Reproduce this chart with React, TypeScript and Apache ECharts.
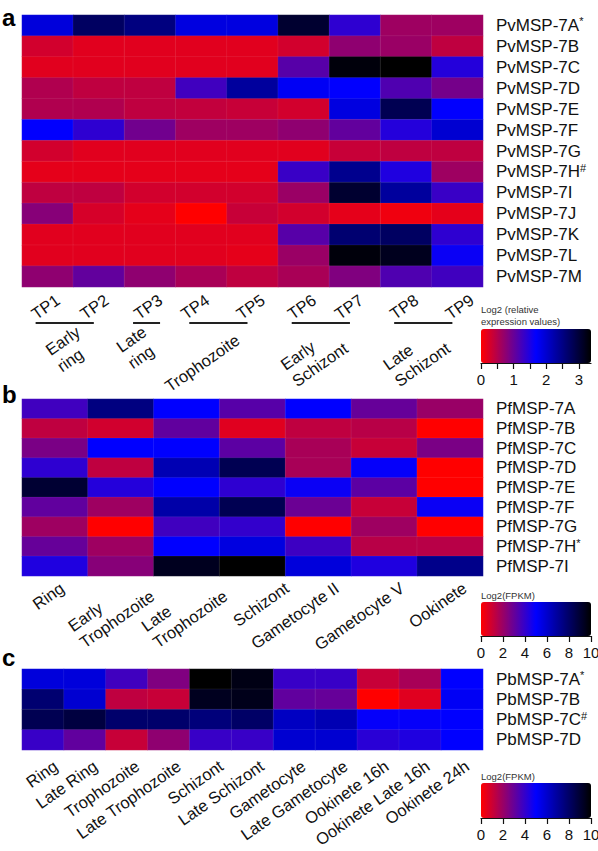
import React, { useEffect, useRef } from 'react';
import * as echarts from 'echarts';

const FONT = '"Liberation Sans", Arial, Helvetica, sans-serif';

// ---------- Panel a data ----------
const tpLabels = ['TP1', 'TP2', 'TP3', 'TP4', 'TP5', 'TP6', 'TP7', 'TP8', 'TP9'];
const tpLabelPos = [0.7, 1.65, 2.7, 3.62, 4.7, 5.7, 6.62, 7.7, 8.78];
const pvGenes = ['PvMSP-7A*', 'PvMSP-7B', 'PvMSP-7C', 'PvMSP-7D', 'PvMSP-7E', 'PvMSP-7F', 'PvMSP-7G',
  'PvMSP-7H#', 'PvMSP-7I', 'PvMSP-7J', 'PvMSP-7K', 'PvMSP-7L', 'PvMSP-7M'];
const pv7A = [1.92, 2.73, 2.53, 1.89, 1.89, 3.05, 1.38, 0.64, 0.64];
const pv7B = [0.30, 0.20, 0.20, 0.20, 0.20, 0.30, 0.74, 0.67, 0.42];
const pv7C = [0.20, 0.20, 0.20, 0.20, 0.20, 1.11, 3.30, 3.37, 1.45];
const pv7D = [0.52, 0.42, 0.42, 1.26, 2.33, 1.75, 1.68, 1.16, 0.91];
const pv7E = [0.52, 0.52, 0.42, 0.40, 0.37, 0.30, 1.89, 2.83, 1.68];
const pv7F = [1.68, 1.38, 0.94, 0.64, 0.64, 0.74, 1.04, 1.45, 1.99];
const pv7G = [0.30, 0.20, 0.20, 0.20, 0.20, 0.20, 0.37, 0.42, 0.42];
const pv7H = [0.17, 0.17, 0.17, 0.17, 0.17, 1.31, 2.43, 1.48, 0.64];
const pv7I = [0.42, 0.42, 0.30, 0.30, 0.30, 0.67, 3.05, 2.33, 1.31];
const pv7J = [0.79, 0.27, 0.17, 0.00, 0.37, 0.30, 0.17, 0.10, 0.17];
const pv7K = [0.20, 0.20, 0.20, 0.20, 0.20, 1.11, 2.63, 2.73, 1.38];
const pv7L = [0.20, 0.20, 0.20, 0.20, 0.17, 0.67, 3.30, 3.17, 1.62];
const pv7M = [0.74, 1.04, 0.74, 0.57, 0.42, 0.57, 0.84, 1.16, 1.26];
const pvRows = [pv7A, pv7B, pv7C, pv7D, pv7E, pv7F, pv7G, pv7H, pv7I, pv7J, pv7K, pv7L, pv7M];
const stageNames = ['Early\nring', 'Late\nring', 'Trophozoite', 'Early\nSchizont', 'Late\nSchizont'];
const stageSpans = [[0, 1], [2, 2], [3, 4], [5, 6], [7, 8]];
const legendATitle = 'Log2 (relative\nexpression values)';
const legendAMax = 3.37;
const legendATicks = [0, 0.5, 1, 1.5, 2, 2.5, 3];
const legendALabels = [0, 1, 2, 3];

// ---------- Panel b data ----------
const pfStages = ['Ring', 'Early\nTrophozoite', 'Late\nTrophozoite', 'Schizont', 'Gametocyte II', 'Gametocyte V', 'Ookinete'];
const pfLabelPos = [0.61, 1.89, 3.0, 4.02, 4.78, 5.77, 6.72];
const pfGenes = ['PfMSP-7A', 'PfMSP-7B', 'PfMSP-7C', 'PfMSP-7D', 'PfMSP-7E', 'PfMSP-7F', 'PfMSP-7G', 'PfMSP-7H*', 'PfMSP-7I'];
const pf7A = [3.75, 7.5, 5.0, 3.3, 5.0, 3.0, 2.0];
const pf7B = [1.25, 0.9, 3.1, 0.6, 1.25, 1.4, 0.0];
const pf7C = [2.6, 5.0, 5.0, 3.2, 1.7, 1.1, 2.6];
const pf7D = [4.1, 1.25, 6.5, 8.4, 1.7, 4.9, 0.0];
const pf7E = [9.0, 4.3, 5.0, 4.1, 4.8, 3.2, 0.0];
const pf7F = [3.1, 1.9, 6.7, 8.4, 2.9, 1.1, 4.8];
const pf7G = [1.9, 0.0, 3.75, 4.0, 0.0, 1.9, 0.0];
const pf7H = [3.0, 1.9, 5.0, 5.6, 3.8, 1.4, 1.4];
const pf7I = [4.4, 2.35, 9.4, 10.0, 5.7, 4.4, 7.3];
const pfRows = [pf7A, pf7B, pf7C, pf7D, pf7E, pf7F, pf7G, pf7H, pf7I];

// ---------- Panel c data ----------
const pbStages = ['Ring', 'Late Ring', 'Trophozoite', 'Late Trophozoite', 'Schizont', 'Late Schizont',
  'Gametocyte', 'Late Gametocyte', 'Ookinete 16h', 'Ookinete Late 16h', 'Ookinete 24h'];
const pbLabelPos = [0.8, 1.75, 2.75, 3.75, 4.75, 5.72, 6.72, 7.72, 8.7, 9.68, 10.62];
const pbGenes = ['PbMSP-7A*', 'PbMSP-7B', 'PbMSP-7C#', 'PbMSP-7D'];
const pb7A = [5.7, 5.7, 3.75, 2.5, 10.0, 9.6, 3.9, 3.9, 1.1, 1.7, 5.0];
const pb7B = [7.8, 5.9, 1.25, 1.1, 9.4, 9.5, 3.1, 3.0, 0.0, 0.6, 5.2];
const pb7C = [8.4, 8.75, 7.9, 7.9, 7.6, 8.0, 6.2, 6.5, 4.9, 4.9, 5.0];
const pb7D = [3.9, 3.1, 1.1, 2.2, 3.9, 3.9, 5.9, 5.9, 4.2, 4.4, 5.0];
const pbRows = [pb7A, pb7B, pb7C, pb7D];
const legendFTitle = 'Log2(FPKM)';
const legendFMax = 10;
const legendFTicks = [0, 2, 4, 6, 8, 10];

const colorRamp = ['#ff0000', '#0000ff', '#000000'];

// ---------- layout ----------
const gA = { left: 22, top: 15, width: 461, height: 272 };
const gB = { left: 22, top: 399, width: 461, height: 177 };
const gC = { left: 22, top: 669, width: 461, height: 81 };
const lgA = { left: 481, top: 329, width: 110, height: 34 };
const lgB = { left: 481, top: 602, width: 110, height: 34 };
const lgC = { left: 481, top: 783, width: 110, height: 35 };
const ROT = 35;
const XFS = 16.5;

const toCells = (rows: number[][]) => {
  const out: number[][] = [];
  rows.forEach((r, yi) => r.forEach((v, xi) => out.push([xi, yi, v])));
  return out;
};

const geneFormatter = (v: string) => {
  const m = v.match(/^(.*?)([*#])$/);
  return m ? `{n|${m[1]}}{s|${m[2]}}` : `{n|${v}}`;
};
const multiLine = (v: string) => v.split('\n').map((s) => `{l|${s}}`).join('\n');

const geneRich = {
  n: { fontSize: 17, fontFamily: FONT, color: '#111', lineHeight: 19 },
  s: { fontSize: 11, fontFamily: FONT, color: '#111', verticalAlign: 'top', lineHeight: 19 },
};
const xRich = { l: { align: 'left', fontSize: XFS, fontFamily: FONT, color: '#111', lineHeight: 20 } };

const catX = (grid: number, data: string[]) => ({
  type: 'category', gridIndex: grid, data, position: 'bottom',
  axisLine: { show: false }, axisTick: { show: false }, splitLine: { show: false }, axisLabel: { show: false },
});
// label axis: places each category name at its own tick position
const labelX = (grid: number, names: string[], pos: number[], margin: number) => ({
  type: 'value', gridIndex: grid, min: 0, max: names.length, position: 'bottom',
  axisLine: { show: false }, axisTick: { show: false }, splitLine: { show: false },
  axisLabel: {
    customValues: pos, rotate: ROT, margin, rich: xRich, color: '#111',
    formatter: (v: number) => {
      let best = 0;
      pos.forEach((p, i) => { if (Math.abs(p - v) < Math.abs(pos[best] - v)) best = i; });
      return multiLine(names[best]);
    },
  },
});
const catY = (grid: number, data: string[]) => ({
  type: 'category', gridIndex: grid, data, position: 'right', inverse: true,
  axisLine: { show: false }, axisTick: { show: false }, splitLine: { show: false },
  axisLabel: { interval: 0, margin: 13, formatter: geneFormatter, rich: geneRich },
});
const legX = (grid: number, max: number, ticks: number[], labels: number[]) => ({
  type: 'value', gridIndex: grid, min: 0, max, position: 'bottom',
  axisLine: { show: true, lineStyle: { color: '#111', width: 1.2 } },
  axisTick: { show: true, length: 6, customValues: ticks, lineStyle: { color: '#111', width: 1.2 } },
  axisLabel: { customValues: labels, margin: 9, fontSize: 15, fontFamily: FONT, color: '#111' },
  splitLine: { show: false },
});
const legY = (grid: number) => ({ type: 'value', gridIndex: grid, show: false, min: 0, max: 1 });

const vm = (seriesIndex: number, max: number, g: { left: number; top: number; width: number; height: number }) => ({
  type: 'continuous', seriesIndex, min: 0, max, orient: 'horizontal',
  left: g.left, top: g.top, itemWidth: g.height, itemHeight: g.width, padding: 0,
  calculable: false, hoverLink: false, showLabel: false, text: null,
  inRange: { color: colorRamp },
});

const heat = (x: number, y: number, rows: number[][]) => ({
  type: 'heatmap', xAxisIndex: x, yAxisIndex: y, data: toCells(rows),
  itemStyle: { borderColor: 'rgba(255,255,255,0.12)', borderWidth: 0.6 },
  emphasis: { disabled: true },
});

export default function App() {
  const ref = useRef<HTMLDivElement>(null);
  useEffect(() => {
    if (!ref.current) return;
    const chart = echarts.init(ref.current, undefined, { renderer: 'svg' });
    const nA = tpLabels.length;
    const cA = (i: number) => gA.left + ((i + 0.5) * gA.width) / nA;
    const lineY = 323;
    const graphics: any[] = [];
    stageSpans.forEach(([a, b], k) => {
      const single = a === b;
      const x1 = single ? cA(a) - 17 : cA(a) - 12;
      const x2 = single ? cA(b) + 10 : cA(b) - 5;
      graphics.push({ type: 'line', shape: { x1, y1: lineY, x2, y2: lineY }, style: { stroke: '#222', lineWidth: 2 } });
      graphics.push({
        type: 'text', x: x2 - 10, y: 338, rotation: (ROT * Math.PI) / 180,
        style: { text: multiLine(stageNames[k]), rich: { l: { align: 'left', fontSize: XFS, fontFamily: FONT, fill: '#111', lineHeight: 20 } }, align: 'right', verticalAlign: 'middle', fill: '#111' },
      });
    });
    const letter = (t: string, y: number) => ({ type: 'text', x: 2, y, style: { text: t, fontSize: 24, fontWeight: 'bold', fontFamily: FONT, fill: '#000', verticalAlign: 'top' } });
    graphics.push(letter('a', 5), letter('b', 382), letter('c', 645));
    graphics.push({ type: 'text', x: 481, y: 304, style: { text: legendATitle, fontSize: 9.5, fontFamily: FONT, fill: '#333', lineHeight: 11.5, verticalAlign: 'top' } });
    graphics.push({ type: 'text', x: 481, y: 590, style: { text: legendFTitle, fontSize: 9.5, fontFamily: FONT, fill: '#333', verticalAlign: 'top' } });
    graphics.push({ type: 'text', x: 481, y: 771, style: { text: legendFTitle, fontSize: 9.5, fontFamily: FONT, fill: '#333', verticalAlign: 'top' } });

    chart.setOption({
      animation: false,
      backgroundColor: '#ffffff',
      textStyle: { fontFamily: FONT },
      grid: [gA, gB, gC, lgA, lgB, lgC].map((g) => ({ ...g, containLabel: false, outerBoundsMode: 'none' })),
      xAxis: [
        catX(0, tpLabels),
        catX(1, pfStages),
        catX(2, pbStages),
        legX(3, legendAMax, legendATicks, legendALabels),
        legX(4, legendFMax, legendFTicks, legendFTicks),
        legX(5, legendFMax, legendFTicks, legendFTicks),
        labelX(0, tpLabels, tpLabelPos, 11),
        labelX(1, pfStages, pfLabelPos, 10),
        labelX(2, pbStages, pbLabelPos, 14),
      ],
      yAxis: [catY(0, pvGenes), catY(1, pfGenes), catY(2, pbGenes), legY(3), legY(4), legY(5)],
      visualMap: [vm(0, legendAMax, lgA), vm(1, legendFMax, lgB), vm(2, legendFMax, lgC)],
      series: [heat(0, 0, pvRows), heat(1, 1, pfRows), heat(2, 2, pbRows)],
      graphic: graphics,
    });
    return () => chart.dispose();
  }, []);
  return <div ref={ref} style={{ position: 'absolute', left: 0, top: 0, width: 598, height: 851 }} />;
}
